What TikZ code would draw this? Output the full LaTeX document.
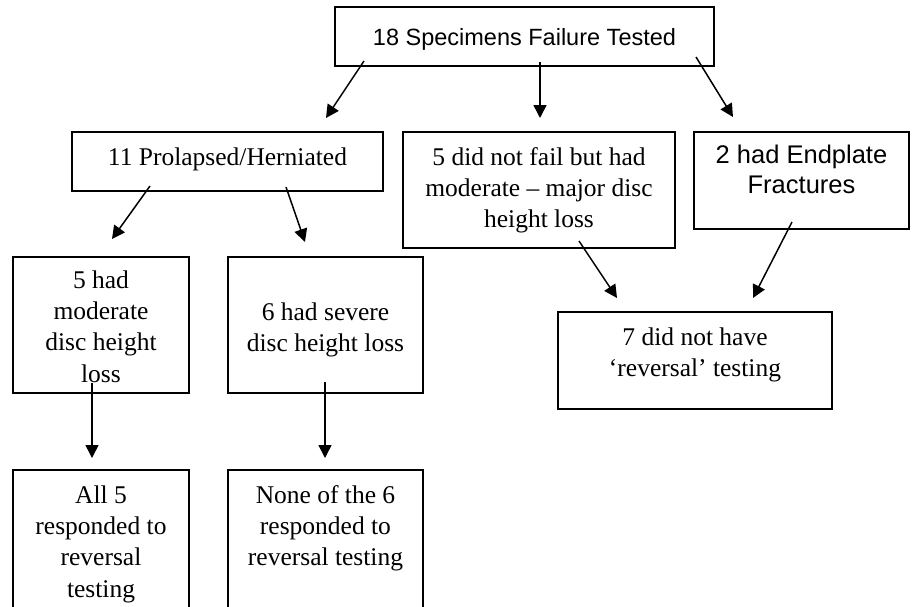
\documentclass[tikz,border=0pt]{standalone}
\usepackage{fontspec}
\setmainfont{Liberation Serif}
\setsansfont{Liberation Sans}
\usetikzlibrary{arrows.meta,calc}
\newcommand{\bxt}[4]{\parbox[b][#2][t]{#1}{\centering\vspace*{#3}\strut #4\par}}
\begin{document}
\begin{tikzpicture}[x=1pt,y=-1pt,
  box/.style={draw=black, line width=1.8pt, inner sep=0pt, outer sep=0pt, anchor=north west},
  serif/.style={font=\fontsize{25.5}{31.3}\selectfont},
  sansbig/.style={font=\sffamily\fontsize{25.5}{30}\selectfont},
  sanstop/.style={font=\sffamily\fontsize{23.5}{28.2}\selectfont},
  arr/.style={line width=1.5pt, -{Triangle[length=13pt,width=13pt]}}]
\path[use as bounding box] (0,0) rectangle (915,606);
\clip (0,0) rectangle (915,606);
\fill[white] (0,0) rectangle (915,606);

\node[box, sanstop] (top) at (335,7) {\bxt{379pt}{59pt}{18.3pt}{18 Specimens Failure Tested}};
\node[box, serif] (n11) at (72,132) {\bxt{311pt}{59pt}{11.3pt}{11 Prolapsed/Herniated}};
\node[box, serif] (n5nf) at (403,132) {\bxt{272pt}{116pt}{11.3pt}{5 did not fail but had\\ moderate -- major disc\\ height loss}};
\node[box, sansbig] (n2) at (694,132) {\bxt{215pt}{97pt}{10pt}{2 had Endplate\\ Fractures}};
\node[box, serif] (m5) at (13,257) {\bxt{176pt}{136pt}{9.3pt}{5 had\\ moderate\\ disc height\\ loss}};
\node[box, serif] (s6) at (228,257) {\bxt{195pt}{136pt}{41.3pt}{6 had severe\\ disc height loss}};
\node[box, serif] (n7) at (558,312) {\bxt{274pt}{97pt}{11.3pt}{7 did not have\\ ‘reversal’ testing}};
\node[box, serif] (b5) at (13,470) {\bxt{176pt}{146pt}{11.3pt}{All 5\\ responded to\\ reversal\\ testing}};
\node[box, serif] (b6) at (228,470) {\bxt{195pt}{146pt}{11.3pt}{None of the 6\\ responded to\\ reversal testing}};

\draw[arr] ($(top.south west)+(29,-5)$) -- ($(n11.north west)+(254,-14)$);
\draw[arr] ($(top.south west)+(205,-4)$) -- ($(n5nf.north west)+(137,-14)$);
\draw[arr] ($(top.south west)+(361,-9)$) -- ($(n2.north west)+(39,-15)$);
\draw[arr] ($(n11.south west)+(78,-5)$) -- ($(m5.north west)+(99,-18)$);
\draw[arr] ($(n11.south west)+(214,-4)$) -- ($(s6.north west)+(77,-15)$);
\draw[arr] ($(m5.south west)+(79,-10)$) -- ($(b5.north west)+(79,-12)$);
\draw[arr] ($(s6.south west)+(97,-11)$) -- ($(b6.north west)+(97,-12)$);
\draw[arr] ($(n5nf.south west)+(176,-7)$) -- ($(n7.north west)+(59,-14)$);
\draw[arr] ($(n2.south west)+(98,-7)$) -- ($(n7.north west)+(195,-14)$);
\end{tikzpicture}
\end{document}
